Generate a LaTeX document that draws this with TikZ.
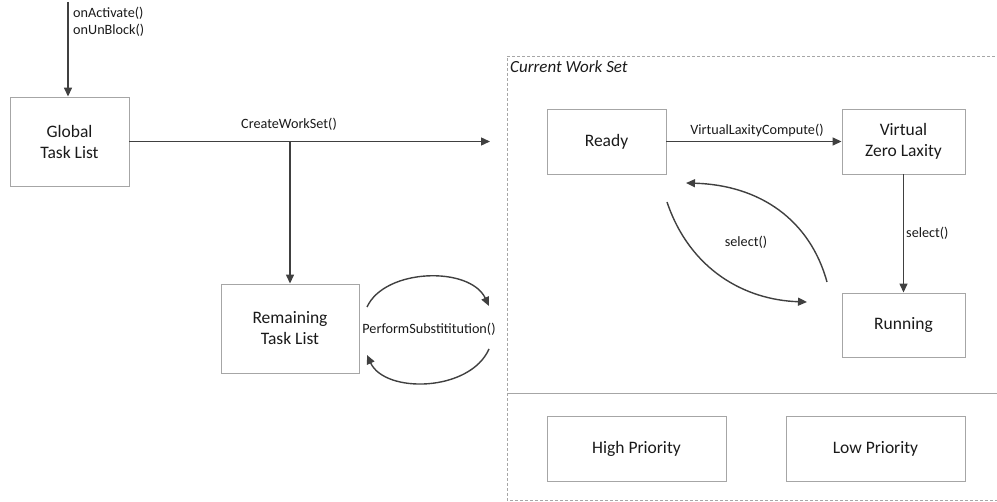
\documentclass[tikz,border=0pt]{standalone}
\usepackage{fontspec}
\setmainfont{Carlito}
\usetikzlibrary{arrows.meta}
\definecolor{boxline}{HTML}{A6A6A6}
\definecolor{flow}{HTML}{404040}
\definecolor{ink}{HTML}{1A1A1A}
\begin{document}
\begin{tikzpicture}[x=1pt,y=-1pt,
  stepbox/.style={draw=boxline, line width=0.9pt, rectangle, align=center,
    font=\fontsize{17.5}{21}\selectfont, text=ink, inner sep=0pt},
  flowline/.style={draw=flow, line width=1.4pt, -{Triangle[length=9pt,width=8pt]}},
  lbl/.style={font=\fontsize{14.2}{17}\selectfont, text=ink, inner sep=0pt}]
\useasboundingbox (0,0) rectangle (997,502);

% work set frame (open to the right) and priority divider
\draw[boxline, dashed, line width=0.8pt, dash pattern=on 3pt off 2pt]
  (1000,56) -- (507,56) -- (507,500) -- (1000,500);
\draw[boxline, line width=0.9pt] (507,393) -- (1000,393);
\node[anchor=north west, inner sep=0pt, text=ink,
  font=\fontsize{17}{20}\selectfont\itshape] (cws) at (510,61) {Current Work Set};

% task lists
\node[stepbox, minimum width=119pt, minimum height=89pt] (global) at (69.5,141.5) {Global\\Task List};
\node[stepbox, minimum width=138pt, minimum height=89pt] (remain) at (290,328.5) {Remaining\\Task List};

% work set states
\node[stepbox, minimum width=119pt, minimum height=65pt] (ready) at (606.5,141.5) {Ready};
\node[stepbox, minimum width=123pt, minimum height=65pt] (vzl) at (903.5,141.5) {Virtual\\Zero Laxity};
\node[stepbox, minimum width=123pt, minimum height=64pt] (running) at (903.5,325) {Running};
\node[stepbox, minimum width=179pt, minimum height=65pt] (high) at (636.5,448.5) {High Priority};
\node[stepbox, minimum width=179pt, minimum height=65pt] (low) at (875.5,448.5) {Low Priority};

% incoming events
\coordinate (src) at (68,2);
\draw[flowline] (src) -- (global.north -| src);
\node[lbl, anchor=north west, align=left] (events) at (73,7) {onActivate()\\onUnBlock()};

% work set creation
\coordinate (wsin) at (490,141.5);
\coordinate (split) at (290,141.5);
\draw[flowline] (global.east) -- (wsin);
\draw[flowline] (split) -- (remain.north);
\node[lbl] (cwslbl) at (289,124) {CreateWorkSet()};

% substitution loop
\coordinate (subA) at (367,307);
\coordinate (subB) at (489,306);
\coordinate (subC) at (489,349);
\coordinate (subD) at (367,355);
\draw[flowline] (subA) .. controls (385,268) and (470,266) .. (subB);
\draw[flowline] (subC) .. controls (470,392) and (385,394) .. (subD);
\node[lbl] (sublbl) at (429,329) {PerformSubstititution()};

% state transitions
\draw[flowline] (ready.east) -- (vzl.west);
\node[lbl] (vlc) at (757,130) {VirtualLaxityCompute()};
\draw[flowline] (vzl.south) -- (running.north);
\node[lbl, anchor=west] (sel1) at (906,233) {select()};

\coordinate (selA) at (827,282);
\coordinate (selB) at (686,183);
\coordinate (selC) at (667,202);
\coordinate (selD) at (807,302);
\draw[flowline] (selA) .. controls (810,220) and (760,185) .. (selB);
\draw[flowline] (selC) .. controls (690,270) and (745,300) .. (selD);
\node[lbl] (sel2) at (746,242) {select()};
\end{tikzpicture}
\end{document}
